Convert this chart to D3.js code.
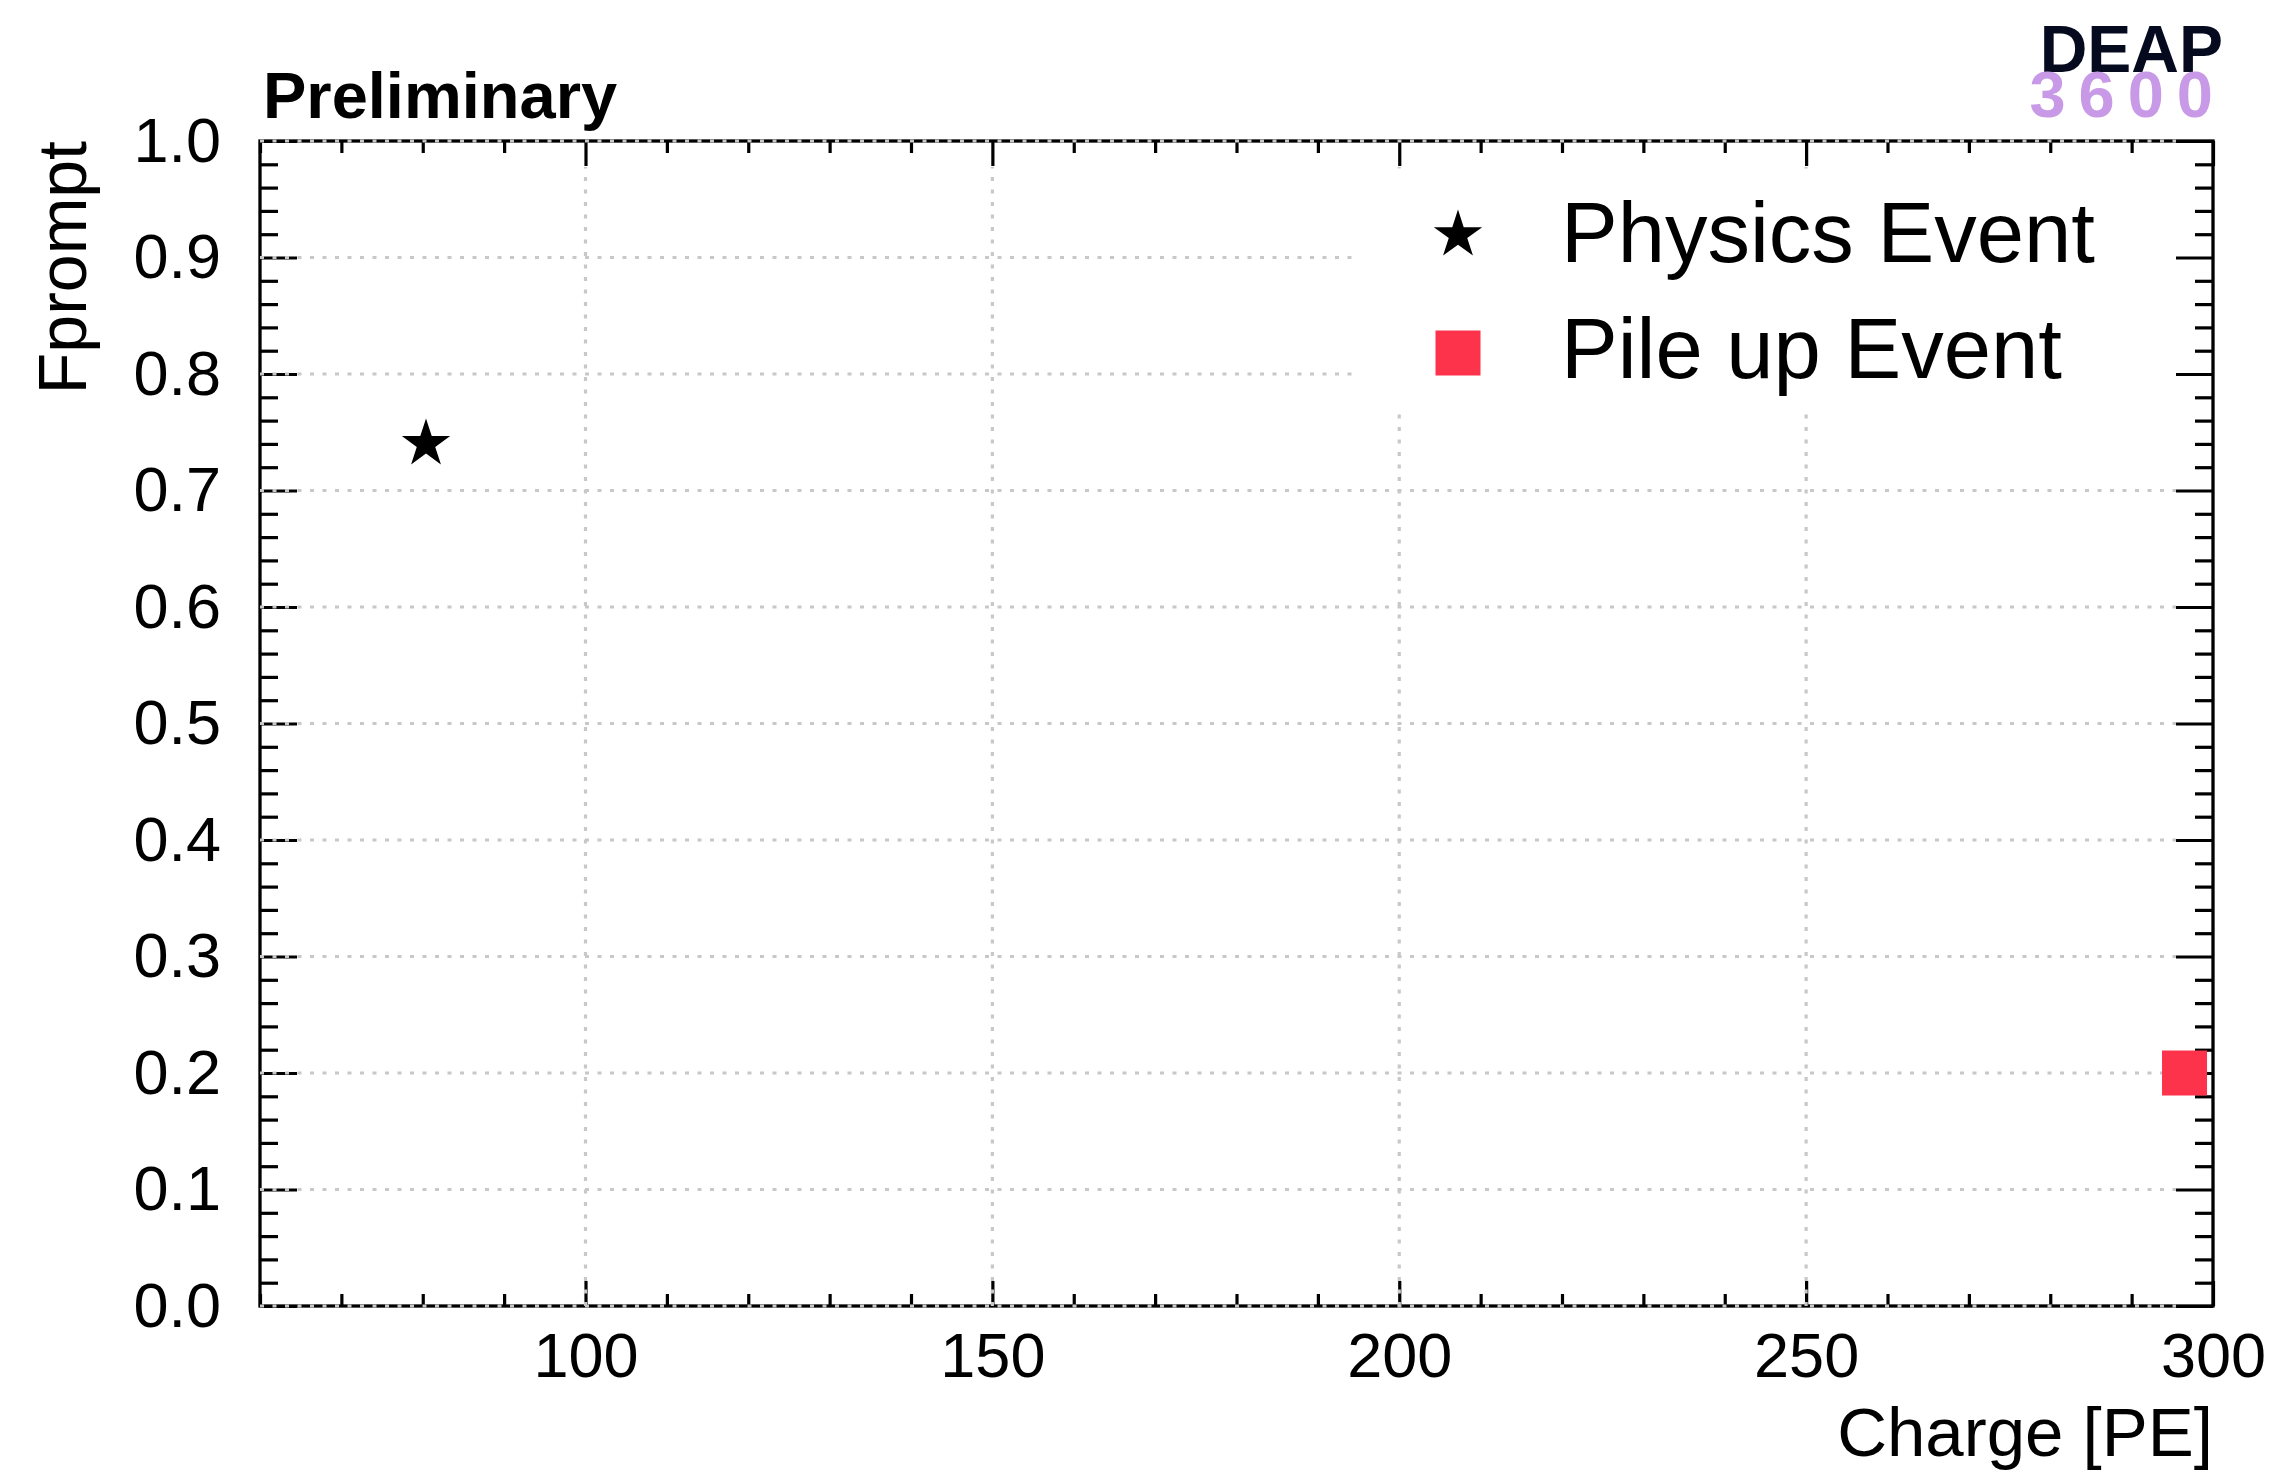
<!DOCTYPE html>
<html>
<head>
<meta charset="utf-8">
<script src="https://cdn.jsdelivr.net/npm/d3@7"></script>
<style>
  html, body { margin: 0; padding: 0; background: #fff; }
  svg { display: block; font-family: "Liberation Sans", Arial, Helvetica, sans-serif; }
</style>
</head>
<body>
<div id="chart"></div>
<script>
// values
const physicsCharge = [80.4];
const physicsFprompt = [0.74];
const pileupCharge = [296.5];
const pileupFprompt = [0.2];

const xMajorTicks = [100, 150, 200, 250, 300];
const yMajorTicks = [0, 0.1, 0.2, 0.3, 0.4, 0.5, 0.6, 0.7, 0.8, 0.9, 1.0];
const legendLabels = ['Physics Event', 'Pile up Event'];

const W = 2280, H = 1473;
const padL = 260, padR = 2213, padT = 141, padB = 1306;

const svg = d3.select('#chart').append('svg')
  .attr('width', W).attr('height', H);

const x = d3.scaleLinear().domain([60, 300]).range([padL, padR]);
const y = d3.scaleLinear().domain([0, 1]).range([padB, padT]);

const xMinor = d3.range(60, 300.001, 10).filter(v => v % 50 !== 0);
const yMinor = d3.range(0, 50).map(i => i / 50).filter((v, i) => i % 5 !== 0);

const gridCol = '#c8c8c8';
const ink = '#000';

function styleAxis(g) {
  g.select('.domain').remove();
  g.selectAll('.tick line').attr('stroke', ink).attr('stroke-width', 3.2);
  g.selectAll('text')
    .attr('font-size', 63)
    .attr('fill', ink)
    .attr('font-family', '"Liberation Sans", Arial, Helvetica, sans-serif');
}

// frame
svg.append('rect')
  .attr('x', padL).attr('y', padT)
  .attr('width', padR - padL).attr('height', padB - padT)
  .attr('fill', 'none').attr('stroke', ink).attr('stroke-width', 3.3);

// bottom axis
svg.append('g').attr('transform', `translate(0,${padB})`)
  .call(d3.axisBottom(x).tickValues(xMajorTicks).tickFormat(d3.format('d'))
    .tickSize(-25).tickPadding(26))
  .call(styleAxis)
  .call(g => g.selectAll('text').attr('dy', '0.71em'));
svg.append('g').attr('transform', `translate(0,${padB})`)
  .call(d3.axisBottom(x).tickValues(xMinor).tickFormat('').tickSize(-12))
  .call(styleAxis);

// top axis (ticks only)
svg.append('g').attr('transform', `translate(0,${padT})`)
  .call(d3.axisTop(x).tickValues(xMajorTicks).tickFormat('').tickSize(-25))
  .call(styleAxis);
svg.append('g').attr('transform', `translate(0,${padT})`)
  .call(d3.axisTop(x).tickValues(xMinor).tickFormat('').tickSize(-12))
  .call(styleAxis);

// left axis
svg.append('g').attr('transform', `translate(${padL},0)`)
  .call(d3.axisLeft(y).tickValues(yMajorTicks).tickFormat(d3.format('.1f'))
    .tickSize(-37).tickPadding(39))
  .call(styleAxis);
svg.append('g').attr('transform', `translate(${padL},0)`)
  .call(d3.axisLeft(y).tickValues(yMinor).tickFormat('').tickSize(-18))
  .call(styleAxis);

// right axis (ticks only)
svg.append('g').attr('transform', `translate(${padR},0)`)
  .call(d3.axisRight(y).tickValues(yMajorTicks).tickFormat('').tickSize(-37))
  .call(styleAxis);
svg.append('g').attr('transform', `translate(${padR},0)`)
  .call(d3.axisRight(y).tickValues(yMinor).tickFormat('').tickSize(-18))
  .call(styleAxis);

// grid, drawn over the frame like ROOT does
const grid = svg.append('g')
  .attr('stroke', gridCol).attr('stroke-width', 3.2)
  .attr('stroke-dasharray', '4 8.5');
grid.selectAll('line.gx')
  .data(xMajorTicks.filter(v => v < 300))
  .join('line').attr('class', 'gx')
  .attr('x1', d => x(d)).attr('x2', d => x(d))
  .attr('y1', padB).attr('y2', padT + 26);
grid.selectAll('line.gy')
  .data(yMajorTicks)
  .join('line').attr('class', 'gy')
  .attr('y1', d => y(d)).attr('y2', d => y(d))
  .attr('x1', padL).attr('x2', padR - 37);

// legend box (white, hides the grid)
svg.append('rect')
  .attr('x', 1354).attr('y', 170)
  .attr('width', padR - 37 - 1354).attr('height', 413 - 170)
  .attr('fill', '#fff');

const starPath = d3.symbol(d3.symbolStar, 725)();
const sq = 45;
const pileCol = '#fc334a';

// data markers
svg.selectAll('path.phys')
  .data(physicsCharge.map((c, i) => [c, physicsFprompt[i]]))
  .join('path').attr('class', 'phys')
  .attr('d', starPath)
  .attr('transform', d => `translate(${x(d[0])},${y(d[1])})`)
  .attr('fill', ink);

svg.selectAll('rect.pile')
  .data(pileupCharge.map((c, i) => [c, pileupFprompt[i]]))
  .join('rect').attr('class', 'pile')
  .attr('x', d => x(d[0]) - sq / 2).attr('y', d => y(d[1]) - sq / 2)
  .attr('width', sq).attr('height', sq)
  .attr('fill', pileCol);

// legend entries
const leg = svg.append('g');
leg.append('path').attr('d', starPath)
  .attr('transform', 'translate(1458,235)').attr('fill', ink);
leg.append('rect')
  .attr('x', 1458 - sq / 2).attr('y', 353 - sq / 2)
  .attr('width', sq).attr('height', sq).attr('fill', pileCol);
leg.selectAll('text')
  .data(legendLabels)
  .join('text')
  .attr('x', 1561)
  .attr('y', (d, i) => 262 + i * 116)
  .attr('font-size', 85)
  .attr('fill', ink)
  .text(d => d);

// axis titles
svg.append('text')
  .attr('x', padR).attr('y', 1456)
  .attr('text-anchor', 'end')
  .attr('font-size', 69)
  .text('Charge [PE]');

svg.append('text')
  .attr('transform', `translate(86,${padT}) rotate(-90)`)
  .attr('text-anchor', 'end')
  .attr('font-size', 68)
  .text('Fprompt');

// labels above the frame
svg.append('text')
  .attr('x', 263).attr('y', 118)
  .attr('font-size', 65).attr('font-weight', 'bold')
  .text('Preliminary');

svg.append('text')
  .attr('x', 2223).attr('y', 72)
  .attr('text-anchor', 'end')
  .attr('font-size', 66).attr('font-weight', 'bold')
  .attr('fill', '#060a1f')
  .text('DEAP');

svg.append('text')
  .attr('x', 2213 + 13).attr('y', 117)
  .attr('text-anchor', 'end')
  .attr('font-size', 65).attr('font-weight', 'bold')
  .attr('letter-spacing', 13)
  .attr('fill', '#c899e6')
  .text('3600');
</script>
</body>
</html>
